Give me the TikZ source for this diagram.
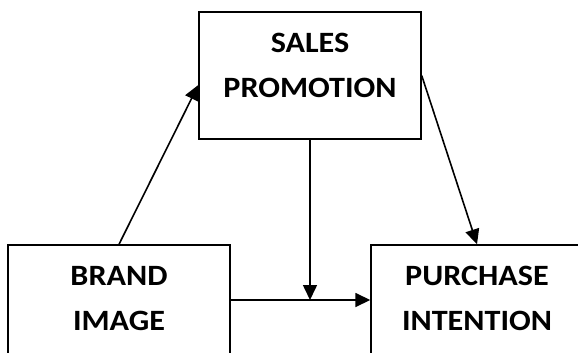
\documentclass[tikz,border=0pt]{standalone}
\usepackage{fontspec}
\setmainfont{Carlito}[FakeStretch=1.09]
\usetikzlibrary{arrows.meta}
\tikzset{
  box/.style={draw=black, line width=1.4pt, minimum width=222pt, inner sep=0pt},
  lbl/.style={align=center, font=\bfseries\fontsize{29.5}{45}\selectfont},
  link/.style={draw=black, line width=1.6pt, -{Triangle[length=15pt,width=14pt]}}
}
\begin{document}
\begin{tikzpicture}[x=1pt, y=-1pt]
\useasboundingbox (0,0) rectangle (578,353);
\begin{scope}
\clip (0,0) rectangle (578,353);
% the three construct boxes
\node[box, minimum height=127pt] (sales) at (310,75.5) {};
\node[box, minimum height=110pt] (brand) at (119,300) {};
\node[box, minimum width=212pt, minimum height=110pt] (purchase) at (477,300) {};
\end{scope}
% box captions
\node[lbl] (salest) at (310,65.5) {SALES\\PROMOTION};
\node[lbl] (brandt) at (119,298.5) {BRAND\\IMAGE};
\node[lbl] (purchaset) at (477,298.5) {PURCHASE\\INTENTION};
% paths between the constructs
\coordinate (join) at (sales.south |- brand.east);
\draw[link] (brand.north) -- ([yshift=-9.5pt]sales.west);
\draw[link] (sales.east) -- (purchase.north);
\draw[link] (sales.south) -- (join);
\draw[link] (brand.east) -- (purchase.west);
\end{tikzpicture}
\end{document}
